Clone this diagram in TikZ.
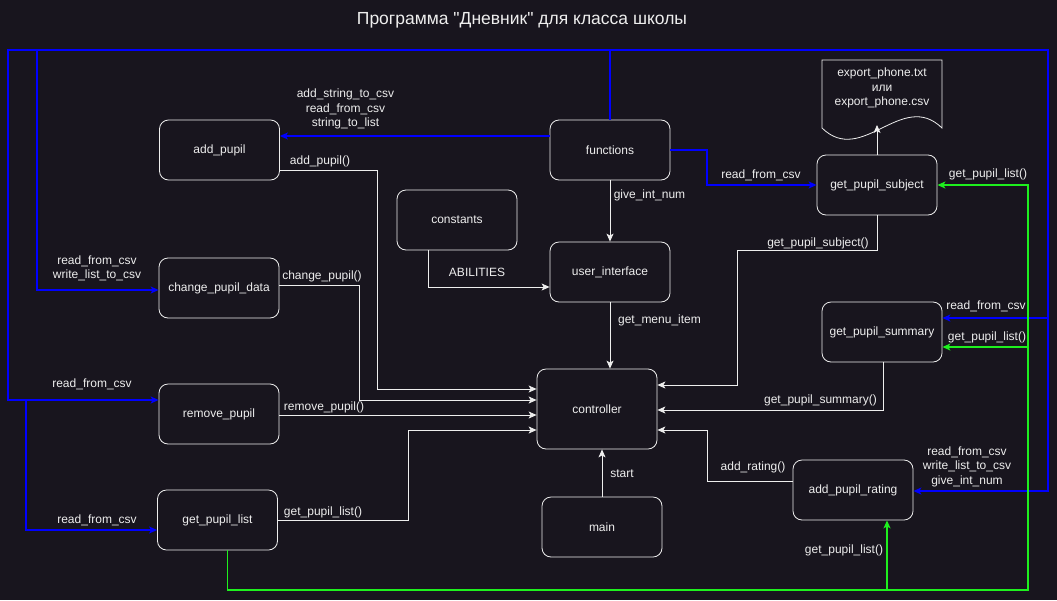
\documentclass[tikz,border=0pt]{standalone}
\usepackage{fontspec}
\setmainfont{Liberation Sans}
\newfontfamily\titlefont{Liberation Sans}[Ligatures=TeXOff]
\usetikzlibrary{arrows.meta,calc}
\definecolor{bg}{RGB}{24,21,30}
\definecolor{fg}{RGB}{238,238,238}
\definecolor{bl}{RGB}{0,0,255}
\definecolor{gr}{RGB}{30,240,30}
\begin{document}
\begin{tikzpicture}[x=1pt,y=-1pt,
  box/.style={draw=fg, line width=0.8pt, rounded corners=9pt, minimum width=120pt, minimum height=60pt, inner sep=0pt, text=fg, font=\fontsize{12}{14}\selectfont},
  lbl/.style={text=fg, font=\fontsize{12}{14.5}\selectfont, align=center, inner sep=0pt},
  wl/.style={draw=fg, line width=0.8pt},
  bll/.style={draw=bl, line width=1.3pt},
  grl/.style={draw=gr, line width=1.3pt},
  tip/.style={-{Stealth[length=8pt,width=7pt,inset=2pt]}},
]
\fill[bg] (0,0) rectangle (1057,600);
\useasboundingbox (0,0) rectangle (1057,600);

\node[text=fg, font=\titlefont\fontsize{17.5}{20}\selectfont] (title) at (522,20) {Программа "Дневник" для класса школы};

% boxes
\node[box] (addp) at (219.5,150) {add\_pupil};
\node[box] (funcs) at (610,150) {functions};
\node[box] (const) at (457,220) {constants};
\node[box] (ui) at (610,272) {user\_interface};
\node[box, minimum height=80pt] (ctrl) at (597,409) {controller};
\node[box] (main) at (602,527) {main};
\node[box] (chg) at (219,288) {change\_pupil\_data};
\node[box] (rem) at (219,414) {remove\_pupil};
\node[box] (gpl) at (217.5,520) {get\_pupil\_list};
\node[box] (gps) at (877,185) {get\_pupil\_subject};
\node[box] (gsum) at (882,332) {get\_pupil\_summary};
\node[box] (rate) at (853,490) {add\_pupil\_rating};

% document shape
\draw[wl, fill=bg] (822,60) -- (942,60) -- (942,128) .. controls (902,89) and (862,167) .. (822,128) -- cycle;
\node[lbl] (doc) at (882,88) {export\_phone.txt\\или\\export\_phone.csv};
\coordinate (docb) at (877,125);

% coordinates
\coordinate (tl) at (8,50);
\coordinate (tl2) at (37,50);
\coordinate (tr) at (1048,50);
\coordinate (jl) at (26,400);
\coordinate (jr) at (1048,318);
\coordinate (fb) at (707,150);
\coordinate (gb) at (1028,590);
\coordinate (gj) at (1028,347);
\coordinate (gr2) at (887,590);

% blue
\draw[bll,tip] (funcs.north) |- (tl) |- ($(rem.west)+(0,-14)$);
\draw[bll,tip] (tl2) |- ($(chg.west)+(0,2)$);
\draw[bll,tip] (jl) |- ($(gpl.west)+(0,10)$);
\draw[bll,tip] (funcs.north) |- (tr) |- ($(rate.east)+(0,1)$);
\draw[bll,tip] (jr) -- ($(gsum.east)+(0,-14)$);
\draw[bll,tip] (funcs.east) -- (fb) |- (gps.west);
\draw[bll,tip] ($(funcs.west)+(0,-14)$) -- ($(addp.east)+(0,-14)$);

% green
\draw[grl,tip] ($(gpl.south)+(10,0)$) |- (gb) |- (gps.east);
\draw[grl,tip] (gj) -- ($(gsum.east)+(0,15)$);
\draw[grl,tip] (gr2) -- ($(rate.south)+(34,0)$);

% white
\draw[wl,tip] ($(addp.east)+(0,20)$) -- (377,170) |- ($(ctrl.west)+(0,-20)$);
\draw[wl,tip] ($(chg.east)+(0,-3)$) -- (359,285) |- ($(ctrl.west)+(0,-9)$);
\draw[wl,tip] ($(rem.east)+(0,1)$) -- ($(ctrl.west)+(0,6)$);
\draw[wl,tip] (gpl.east) -- (408,520) |- ($(ctrl.west)+(0,21)$);
\draw[wl,tip] ($(const.south)+(-29,0)$) |- ($(ui.west)+(0,15)$);
\draw[wl,tip] (funcs.south) -- (ui.north);
\draw[wl,tip] (ui.south) -- (ui.south |- ctrl.north);
\draw[wl,tip] (main.north) -- (main.north |- ctrl.south);
\draw[wl,tip] (gps.south) |- (737,250) |- ($(ctrl.east)+(0,-24)$);
\draw[wl,tip] ($(gsum.south)+(1,0)$) |- ($(ctrl.east)+(0,1)$);
\draw[wl,tip] ($(rate.west)+(0,-9)$) -- (707,481) |- ($(ctrl.east)+(0,21)$);
\draw[wl,tip] (gps.north) -- (docb);

% labels
\node[lbl] (l1) at (345.5,109) {add\_string\_to\_csv\\read\_from\_csv\\string\_to\_list};
\node[lbl] (l2) at (320,161) {add\_pupil()};
\node[lbl] (l3) at (322,276) {change\_pupil()};
\node[lbl] (l4) at (324,407) {remove\_pupil()};
\node[lbl] (l5) at (323,512) {get\_pupil\_list()};
\node[lbl] (l6) at (477,272) {ABILITIES};
\node[lbl] (l7) at (649.5,195) {give\_int\_num};
\node[lbl] (l8) at (659.5,320) {get\_menu\_item};
\node[lbl] (l9) at (622,474) {start};
\node[lbl] (l10) at (818,243) {get\_pupil\_subject()};
\node[lbl] (l11) at (820.5,400) {get\_pupil\_summary()};
\node[lbl] (l12) at (753,467) {add\_rating()};
\node[lbl] (l13) at (97,268.5) {read\_from\_csv\\write\_list\_to\_csv};
\node[lbl] (l14) at (92,384) {read\_from\_csv};
\node[lbl] (l15) at (97,520) {read\_from\_csv};
\node[lbl] (l16) at (761,175) {read\_from\_csv};
\node[lbl] (l17) at (988,174) {get\_pupil\_list()};
\node[lbl] (l18) at (986,306) {read\_from\_csv};
\node[lbl] (l19) at (987,337) {get\_pupil\_list()};
\node[lbl] (l20) at (967,466.5) {read\_from\_csv\\write\_list\_to\_csv\\give\_int\_num};
\node[lbl] (l21) at (844,550) {get\_pupil\_list()};
\end{tikzpicture}
\end{document}
